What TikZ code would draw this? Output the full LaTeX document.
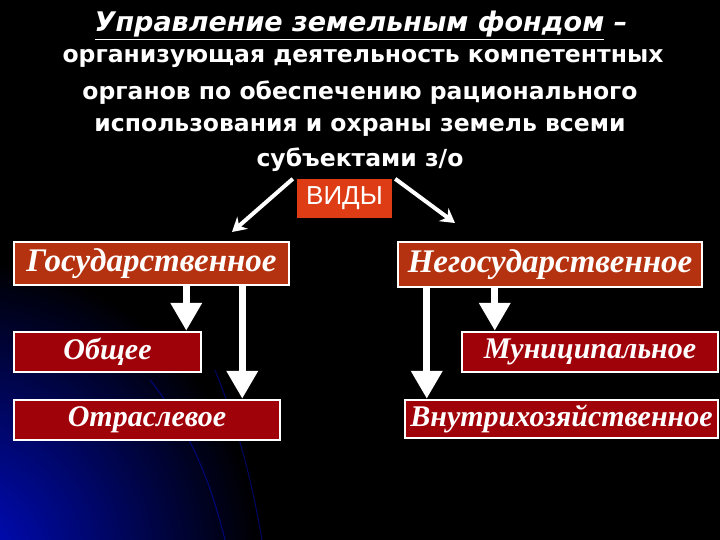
\documentclass[tikz,border=0pt]{standalone}
\usepackage{fontspec}
\setmainfont{DejaVu Sans}
\newfontfamily\boxfont{Liberation Serif}
\newfontfamily\vidyfont{Liberation Sans}
\usetikzlibrary{arrows.meta}

\definecolor{topred}{RGB}{180,50,16}
\definecolor{lowred}{RGB}{160,2,10}
\definecolor{vidyred}{RGB}{222,60,20}
\definecolor{glowblue}{RGB}{0,12,200}

\tikzset{
  headline/.style={text=white,anchor=base,inner sep=0pt,
                   font=\bfseries\fontsize{23.5}{28}\selectfont},
  topbox/.style={draw=white,line width=2.5pt,fill=topred,text=white,inner sep=0pt,
                 font=\boxfont\bfseries\itshape\fontsize{33}{34}\selectfont},
  lowbox/.style={topbox,fill=lowred,font=\boxfont\bfseries\itshape\fontsize{30}{31}\selectfont},
  vidybox/.style={fill=vidyred,text=white,inner sep=0pt,minimum width=95pt,minimum height=39pt,
                  font=\vidyfont\fontsize{26}{26}\selectfont},
  downarrow/.style={white,line width=7pt,-{Triangle[width=30pt,length=28pt]}},
  sidearrow/.style={white,line width=4pt,-{Stealth[width=16pt,length=14pt]}}
}

\begin{document}
\begin{tikzpicture}[x=1pt,y=-1pt]

% background
  \fill[black] (0,0) rectangle (720,540);
  \begin{scope}
    \clip (0,0) rectangle (720,540);
    \shade[inner color=glowblue,outer color=black] (-40,560) circle (300);
    \draw[glowblue!60!black,line width=1pt] (150,380) .. controls (190,430) and (210,480) .. (225,540);
    \draw[glowblue!50!black,line width=1pt] (215,370) .. controls (235,420) and (250,470) .. (262,540);
  \end{scope}

% definition text
  \node[headline,font=\bfseries\itshape\fontsize{27}{28}\selectfont] (def0) at (361,32) {\underline{Управление земельным фондом} –};
  \node[headline] (def1) at (363,63) {организующая деятельность компетентных};
  \node[headline] (def2) at (360,100) {органов по обеспечению рационального};
  \node[headline] (def3) at (360,132) {использования и охраны земель всеми};
  \node[headline] (def4) at (360,167) {субъектами з/о};

% kinds
  \node[vidybox] (vidy) at (344.5,198.5) {ВИДЫ};
  \node[topbox,minimum width=275pt,minimum height=43pt] (gos) at (151.5,263.5) {Государственное};
  \node[topbox,minimum width=304pt,minimum height=45pt] (negos) at (550,264.5) {Негосударственное};

  \coordinate (gosend) at (232,232);
  \coordinate (negosend) at (455,223);
  \draw[sidearrow] ([xshift=-4pt]vidy.north west) -- (gosend);
  \draw[sidearrow] ([xshift=3pt]vidy.north east) -- (negosend);

% state level
  \node[lowbox,minimum width=187pt,minimum height=40pt] (obsh) at (107.5,352) {Общее};
  \node[lowbox,minimum width=266pt,minimum height=40pt] (otr) at (147,420) {Отраслевое};
  \draw[downarrow] ([xshift=-16pt]obsh.north east |- gos.south) -- ([xshift=-16pt]obsh.north east);
  \draw[downarrow] ([xshift=-39pt]otr.north east |- gos.south) -- ([xshift=-39pt]otr.north east);

% non-state level
  \node[lowbox,minimum width=256pt,minimum height=40pt] (mun) at (590,352) {Муниципальное};
  \node[lowbox,minimum width=313pt,minimum height=38pt] (vnutr) at (561.5,419) {Внутрихозяйственное};
  \draw[downarrow] ([xshift=34pt]mun.north west |- negos.south) -- ([xshift=34pt]mun.north west);
  \draw[downarrow] ([xshift=23pt]vnutr.north west |- negos.south) -- ([xshift=23pt]vnutr.north west);

\end{tikzpicture}
\end{document}
